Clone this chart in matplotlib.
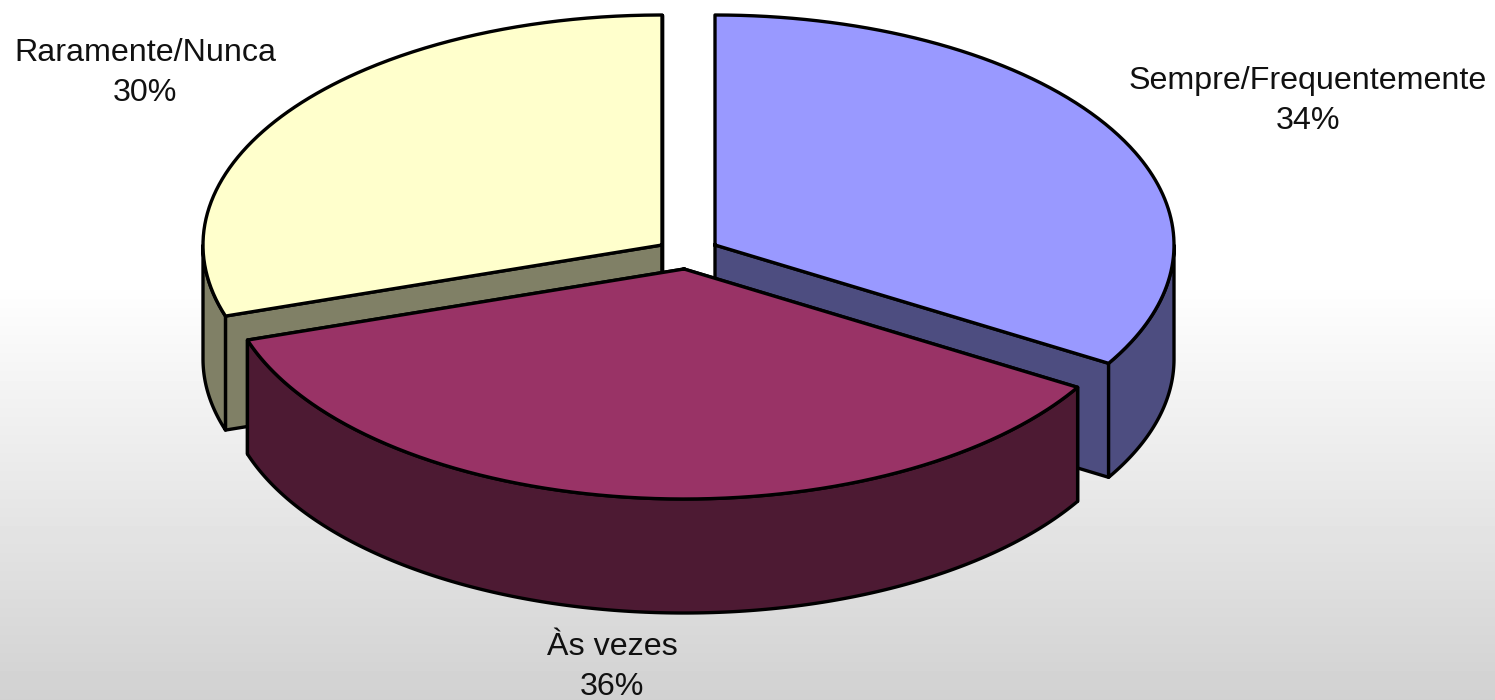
import matplotlib
matplotlib.use("Agg")
import matplotlib.pyplot as plt
from matplotlib.patches import Wedge, Polygon
from matplotlib.transforms import Affine2D
import numpy as np

# Data to plot
labels = ["Sempre/Frequentemente", "Às vezes", "Raramente/Nunca"]
sizes = [33.6, 36.4, 30.0]
topColors = ["#9999FF", "#993366", "#FFFFCC"]
sideColors = ["#4D4D80", "#4D1A33", "#808066"]

# Where each slice ends up after being pulled out, in pixels
centers = [(715, 245), (684, 269), (662, 245)]
labelPos = [(1308, 101), (612, 667), (145, 73)]

RX = 459.0
RY = 230.0
DEPTH = 114.0
SQUASH = RY / RX
LW = 2.4


def RimPoint(center, angle):
    # angle is clockwise from 12 o'clock, in degrees
    a = np.radians(angle)
    return center[0] + RX * np.sin(a), center[1] - RY * np.cos(a)


def DrawWalls(ax, center, start, end, color):
    # flat faces where the slice was cut
    for angle in (start, end):
        x, y = RimPoint(center, angle)
        if y > center[1] or x < center[0]:
            face = [center, (x, y), (x, y + DEPTH), (center[0], center[1] + DEPTH)]
            ax.add_patch(Polygon(face, closed=True, fc=color, ec="black", lw=LW, joinstyle="round"))
    # outer curved wall, only the front half of the rim shows
    lo = max(start, 90)
    hi = min(end, 270)
    if lo < hi:
        a = np.linspace(lo, hi, 200)
        xs, ys = RimPoint(center, a)
        pts = np.vstack([np.column_stack([xs, ys]), np.column_stack([xs[::-1], ys[::-1] + DEPTH])])
        ax.add_patch(Polygon(pts, closed=True, fc=color, ec="black", lw=LW, joinstyle="round"))


def DrawTop(ax, center, start, end, color):
    squash = Affine2D().translate(0, -center[1]).scale(1, SQUASH).translate(0, center[1]) + ax.transData
    # Wedge angles run from +x, y axis is flipped here so they go clockwise
    w = Wedge(center, RX, start - 90, end - 90, fc=color, ec="none", transform=squash)
    ax.add_patch(w)
    a = np.linspace(start, end, 300)
    xs, ys = RimPoint(center, a)
    ax.plot(np.r_[center[0], xs, center[0]], np.r_[center[1], ys, center[1]], color="black", lw=LW, solid_joinstyle="round")


fig = plt.figure(figsize=(14.95, 7.0), dpi=100)
ax = fig.add_axes([0, 0, 1, 1])
ax.set_xlim(0, 1495)
ax.set_ylim(700, 0)
ax.axis("off")

# Slide background, white on top fading to grey
grad = np.ones(700)
grad[280:] = np.linspace(1.0, 0.82, 420)
ax.imshow(grad[:, None], cmap="gray", vmin=0, vmax=1, extent=(0, 1495, 700, 0), aspect="auto", zorder=0)

edges = np.cumsum([0] + sizes) * 3.6

# back slices first, the middle one sits in front of them
for i in (0, 2, 1):
    DrawWalls(ax, centers[i], edges[i], edges[i + 1], sideColors[i])
    DrawTop(ax, centers[i], edges[i], edges[i + 1], topColors[i])

for i in range(len(labels)):
    ax.text(labelPos[i][0], labelPos[i][1], labels[i] + "\n" + str(round(sizes[i])) + "%",
            ha="center", va="center", fontsize=23.2, family="Liberation Sans", color="#111111", linespacing=1.42)

ax.set_xlim(0, 1495)
ax.set_ylim(700, 0)
fig.savefig("out.png", dpi=100)
